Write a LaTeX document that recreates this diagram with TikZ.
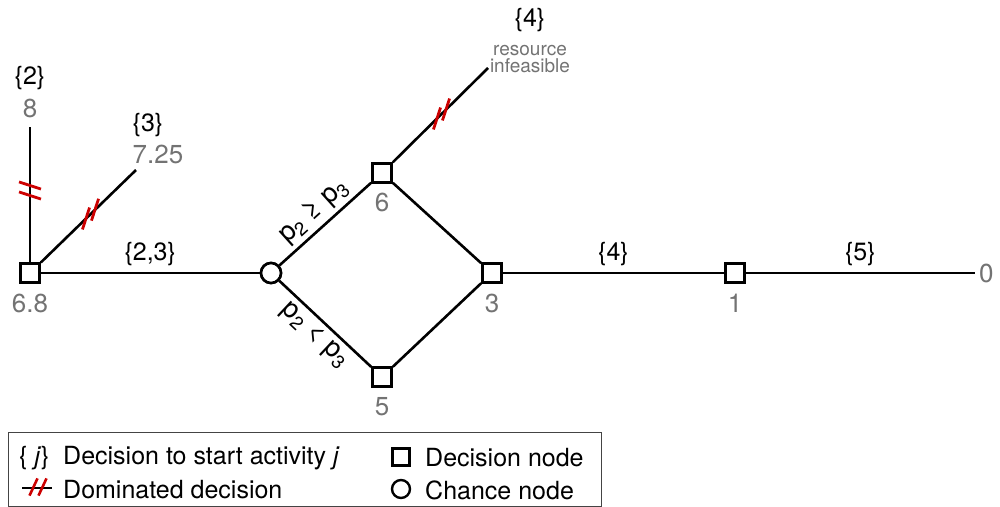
\documentclass[tikz,border=0pt]{standalone}
\usepackage{fontspec}
\setmainfont{TeX Gyre Heros}
\definecolor{lblgray}{HTML}{737373}
\definecolor{domred}{RGB}{204,0,0}
\definecolor{boxgray}{HTML}{444444}
\newcommand{\fsz}{\fontsize{25}{28}\selectfont}
\newcommand{\fval}{\fontsize{26}{29}\selectfont}
\newcommand{\fsmall}{\fontsize{19}{20}\selectfont}
\newcommand{\plbl}[1]{p\textsubscript{2} #1 p\textsubscript{3}}
\tikzset{
  edge/.style={line width=2.6pt},
  dnode/.style={draw, line width=2.6pt, fill=white, minimum size=19pt, inner sep=0pt},
  cnode/.style={draw, circle, line width=2.6pt, fill=white, minimum size=20pt, inner sep=0pt},
  val/.style={text=lblgray, font=\fval, inner sep=0pt},
  dec/.style={text=black, font=\fsz, inner sep=0pt},
  plab/.style={font=\fontsize{27}{30}\selectfont, inner sep=0pt, midway, sloped},
  dommark/.style={draw=domred, line width=2.8pt},
  lgtext/.style={font=\fsz, anchor=west, inner sep=0pt},
}
\begin{document}
\begin{tikzpicture}[x=1pt,y=-1pt]
\useasboundingbox (0,0) rectangle (1000,506);
% nodes
\node[dnode] (A) at (30,273) {};
\coordinate (T2) at (30,127);
\coordinate (T3) at (136,170);
\node[cnode] (C) at (271,273) {};
\node[dnode] (N6) at (382,173) {};
\node[dnode] (N3) at (492,273) {};
\node[dnode] (N5) at (382,377) {};
\node[dnode] (N1) at (735,273) {};
\coordinate (E) at (975,273);
\coordinate (T4) at (488,68);
% edges
\draw[edge] (A) -- (T2);
\draw[edge] (A) -- (T3);
\draw[edge] (A) -- node[dec, midway, above=6pt] {\{2,3\}} (C);
\draw[edge] (C) -- node[plab, above=4pt] {\plbl{≥}} (N6);
\draw[edge] (C) -- node[plab, below=4pt] {\plbl{<}} (N5);
\draw[edge] (N6) -- (N3);
\draw[edge] (N5) -- (N3);
\draw[edge] (N6) -- (T4);
\draw[edge] (N3) -- node[dec, midway, above=6pt] {\{4\}} (N1);
\draw[edge] (N1) -- node[dec, midway, above=6pt] {\{5\}} (E);
% redraw nodes on top
\node[dnode] at (A) {};
\node[cnode] at (C) {};
\node[dnode] at (N6) {};
\node[dnode] at (N3) {};
\node[dnode] at (N5) {};
\node[dnode] at (N1) {};
% values
\node[val] (vA) at (30,303) {6.8};
\node[val] (v2) at (30,108) {8};
\node[dec] (d2) at (30,78) {\{2\}};
\node[val] (v3) at (158,154) {7.25};
\node[dec] (d3) at (148,125) {\{3\}};
\node[val] (v6) at (382,202) {6};
\node[val] (v3b) at (492,303) {3};
\node[val] (v5) at (382,407) {5};
\node[val] (v1) at (735,303) {1};
\node[val, anchor=west] (v0) at (979,273) {0};
\node[dec] (d4) at (530,20) {\{4\}};
\node[text=lblgray, font=\fsmall, inner sep=0pt, align=center] (inf) at (530,59) {resource\\[-3pt]infeasible};
% dominated marks
\foreach \cx/\cy/\ang in {30/185.5/-18, 30/195.5/-18, 86/218.5/72, 95/209.7/72, 437/118.5/72, 446/109.5/72}{
  \draw[dommark, shift={(\cx,\cy)}, rotate=\ang] (-11.5,0) -- (11.5,0);
}
% legend
\node[draw=boxgray, line width=1.2pt, minimum width=593pt, minimum height=74pt, anchor=north west, inner sep=0pt] (leg) at (8,432) {};
\node[lgtext] (lj) at (19,458) {\{ \textit{j}\}};
\node[lgtext] (l1) at (63,458) {Decision to start activity \textit{j}};
\coordinate (ls) at (22,488);
\coordinate (le) at (52,488);
\draw[line width=2.4pt] (ls) -- (le);
\foreach \cx in {33.5,42.5}{
  \draw[dommark, line width=2.6pt, shift={(\cx,487)}, rotate=65] (-9.5,0) -- (9.5,0);
}
\node[lgtext] (l2) at (63,490) {Dominated decision};
\node[dnode, minimum size=17pt, line width=2.4pt] (ld) at (401,457) {};
\node[lgtext] (l3) at (425,458) {Decision node};
\node[cnode, minimum size=18pt, line width=2.4pt] (lc) at (401,489) {};
\node[lgtext] (l4) at (425,490) {Chance node};
\end{tikzpicture}
\end{document}
